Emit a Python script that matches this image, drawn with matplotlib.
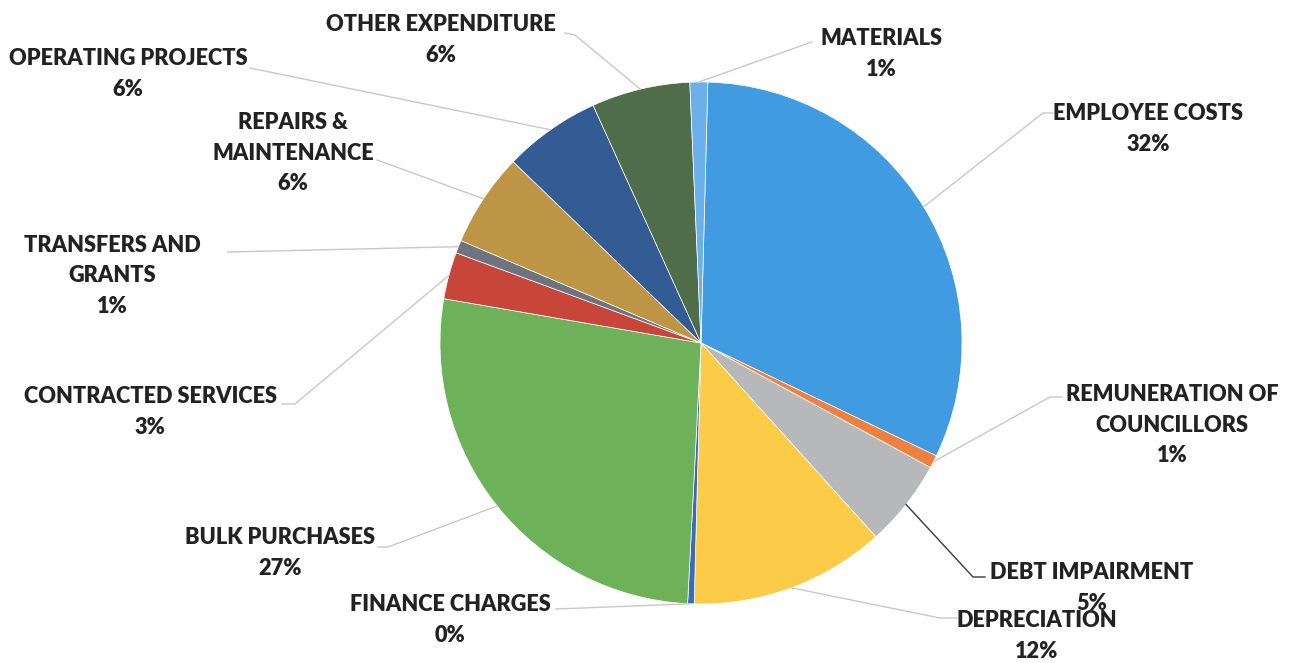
import matplotlib.pyplot as plt
import numpy as np

# slice data, clockwise from the top
categories = ['EMPLOYEE COSTS', 'REMUNERATION OF\nCOUNCILLORS', 'DEBT IMPAIRMENT',
              'DEPRECIATION', 'FINANCE CHARGES', 'BULK PURCHASES',
              'CONTRACTED SERVICES', 'TRANSFERS AND\nGRANTS', 'REPAIRS &\nMAINTENANCE',
              'OPERATING PROJECTS', 'OTHER EXPENDITURE', 'MATERIALS']
shares = [31.7, 0.8, 5.4, 12.1, 0.4, 26.9, 2.9, 0.8, 5.8, 6.0, 6.1, 1.1]
pct_labels = ['32%', '1%', '5%', '12%', '0%', '27%', '3%', '1%', '6%', '6%', '6%', '1%']

colors = ['#419BE0', '#EE8040', '#B6B8BA', '#FCCB48', '#3C6CB4', '#6DB158',
          '#C8453A', '#6E7380', '#BE9544', '#345C94', '#4F6D48', '#6BB0EA']

W, H = 1292, 663
cx, cy, R = 701, 343, 261  # pie centre / radius in image pixels
start = 88.5

# label text centres (image px) and leader line bends/ends (image px)
label_pos = [(1148, 129), (1172, 425), (1092, 588), (1037, 636), (450, 620), (280, 553),
             (150, 412), (112, 276), (293, 153), (128, 74), (441, 40), (881, 54)]
leader = [[(1043, 113), (1053, 113)], [(1050, 397), (1062, 397)],
          [(973, 577), (985, 577)], [(940, 618), (957, 618)],
          [(556, 609)], [(388, 547), (378, 547)],
          [(295, 404), (282, 404)], [(228, 252)],
          [(377, 160)], [(250, 68)],
          [(575, 35), (565, 33)], [(812, 42)]]
leader_colors = ['#C8C8C8'] * 12
leader_colors[2] = '#3A3A3A'

fig = plt.figure(figsize=(W / 100, H / 100), dpi=100)
ax = fig.add_axes([0, 0, 1, 1])

ax.pie(shares, colors=colors, center=(cx, H - cy), radius=R, startangle=start,
       counterclock=False, wedgeprops=dict(edgecolor='white', linewidth=0.5))
ax.set_xlim(0, W)
ax.set_ylim(0, H)
ax.set_aspect('equal')
ax.axis('off')

# leader lines from the slice edge middle
total = sum(shares)
cum = np.cumsum([0] + shares[:-1])
for i, v in enumerate(shares):
    ang = np.deg2rad(start - 360 * (cum[i] + v / 2) / total)
    p0 = (cx + R * np.cos(ang), H - cy + R * np.sin(ang))
    pts = [p0] + [(x, H - y) for x, y in leader[i]]
    xs, ys = zip(*pts)
    ax.plot(xs, ys, color=leader_colors[i], lw=1.0, zorder=1)

for i, name in enumerate(categories):
    x, y = label_pos[i]
    ax.text(x, H - y, name + '\n' + pct_labels[i], ha='center', va='center',
            fontsize=15.7, fontweight='heavy', family='Lato', color='#222222',
            linespacing=1.56)

fig.savefig('out.png', dpi=100, facecolor='white')
